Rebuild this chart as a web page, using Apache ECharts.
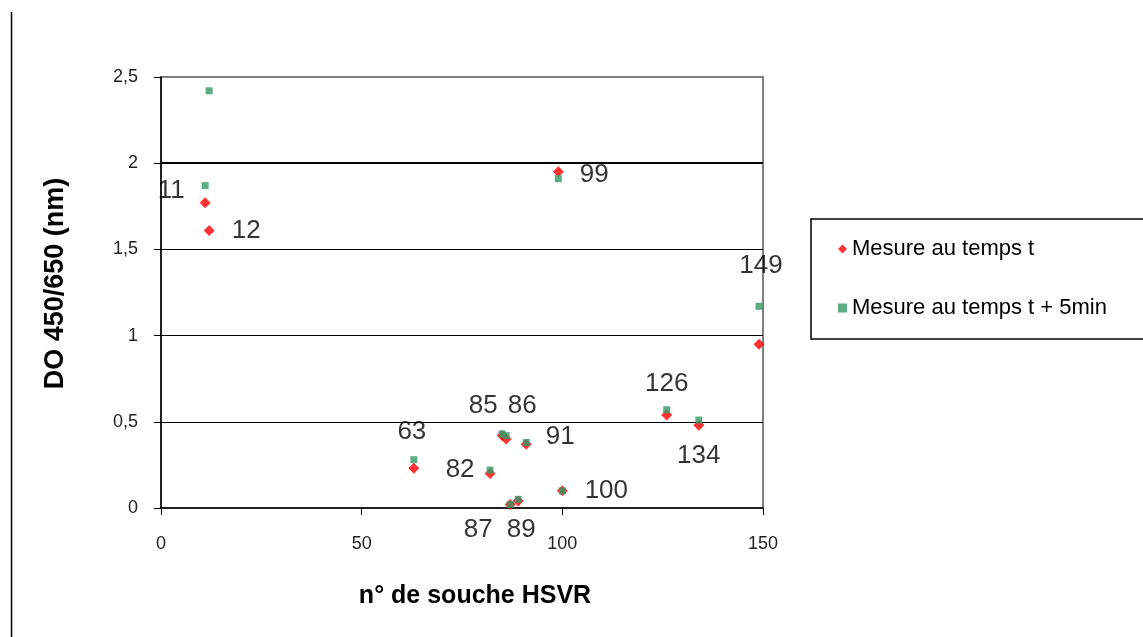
<!DOCTYPE html>
<html>
<head>
<meta charset="utf-8">
<script src="https://cdn.jsdelivr.net/npm/echarts@6/dist/echarts.min.js"></script>
<style>
  html, body { margin: 0; padding: 0; background: #fff; }
  #chart { width: 1143px; height: 637px; }
</style>
</head>
<body>
<div id="chart"></div>
<script>
// n° de souche et mesures DO 450/650
const strains = [11, 12, 63, 82, 85, 86, 87, 89, 91, 99, 100, 126, 134, 149];
const doT = [1.77, 1.61, 0.23, 0.20, 0.42, 0.40, 0.02, 0.04, 0.37, 1.95, 0.10, 0.54, 0.48, 0.95];
const doT5 = [1.87, 2.42, 0.28, 0.22, 0.43, 0.42, 0.02, 0.05, 0.38, 1.91, 0.10, 0.57, 0.51, 1.17];
const xTicks = [0, 50, 100, 150];
const yTicks = [0, 0.5, 1, 1.5, 2, 2.5];

// where each strain number sits around its point (px)
const labelOffsets = [[-34, -12], [37, 0], [-2, -37], [-30, -4], [-19, -30], [16, -33], [-32, 25],
  [3, 29], [34, -7], [36, 3], [44, 0], [0, -31], [0, 31], [2, -78]];

const font = 'Liberation Sans, Arial, sans-serif';
const fmt = v => String(v).replace('.', ',');

const redData = strains.map((s, i) => ({
  value: [s, doT[i]],
  label: { offset: labelOffsets[i] }
}));
const greenData = strains.map((s, i) => [s, doT5[i]]);

const chart = echarts.init(document.getElementById('chart'));
chart.setOption({
  animation: false,
  textStyle: { fontFamily: font },
  grid: {
    left: 161, right: 380, top: 77, bottom: 129,
    show: true, borderColor: '#808080', borderWidth: 2
  },
  legend: {
    orient: 'vertical',
    left: 811, top: 219,
    padding: [19, 60, 20, 27],
    itemGap: 37,
    itemWidth: 9, itemHeight: 9,
    borderColor: '#000', borderWidth: 1.5,
    textStyle: { fontSize: 22, color: '#000', fontFamily: font },
    data: [
      { name: 'Mesure au temps t' },
      { name: 'Mesure au temps t + 5min', itemStyle: { color: '#339966' }, icon: 'rect' }
    ]
  },
  graphic: [{
    type: 'line',
    shape: { x1: 11.5, y1: 12, x2: 11.5, y2: 637 },
    style: { stroke: '#000', lineWidth: 1.5 }
  }],
  xAxis: {
    type: 'value',
    min: xTicks[0], max: xTicks[xTicks.length - 1], interval: 50,
    name: 'n° de souche HSVR',
    nameLocation: 'middle', nameGap: 76,
    nameTextStyle: { fontSize: 25, fontWeight: 'bold', color: '#000', padding: [0, 0, 0, 26] },
    axisLine: { lineStyle: { color: '#000', width: 1.5 } },
    axisTick: { show: true, length: 7, lineStyle: { color: '#000' } },
    axisLabel: { fontSize: 18, color: '#222', margin: 27, formatter: fmt },
    splitLine: { show: false }
  },
  yAxis: {
    type: 'value',
    min: yTicks[0], max: yTicks[yTicks.length - 1], interval: 0.5,
    name: 'DO 450/650 (nm)',
    nameLocation: 'middle', nameGap: 92, nameRotate: 90,
    nameTextStyle: { fontSize: 27, fontWeight: 'bold', color: '#000', padding: [0, 0, 0, 18] },
    axisLine: { show: true, lineStyle: { color: '#000', width: 1.5 } },
    axisTick: { show: true, length: 7, lineStyle: { color: '#000' } },
    axisLabel: { fontSize: 18, color: '#222', margin: 23, formatter: fmt },
    splitLine: { show: true, showMinLine: false, showMaxLine: false, lineStyle: { color: '#000', width: 1 } }
  },
  series: [
    {
      name: 'Mesure au temps t',
      type: 'scatter',
      symbol: 'diamond',
      symbolSize: 11,
      itemStyle: { color: '#ff0000' },
      data: redData,
      label: {
        show: true,
        position: 'inside',
        align: 'center',
        verticalAlign: 'middle',
        fontSize: 26,
        color: '#000',
        textBorderWidth: 0,
        fontFamily: font,
        formatter: p => p.value[0]
      },
      markLine: {
        silent: true,
        symbol: 'none',
        label: { show: false },
        lineStyle: { color: '#000', width: 2, type: 'solid' },
        data: [{ yAxis: 2 }]
      },
      z: 2
    },
    {
      name: 'Mesure au temps t + 5min',
      type: 'scatter',
      symbol: 'rect',
      symbolSize: 7,
      itemStyle: { color: '#339966' },
      data: greenData,
      z: 3
    }
  ]
});
</script>
</body>
</html>
